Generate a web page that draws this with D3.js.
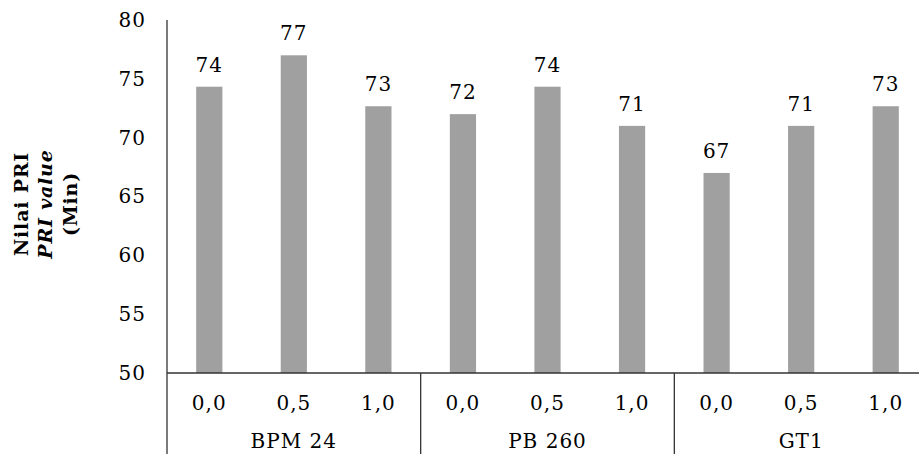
<!DOCTYPE html>
<html><head><meta charset="utf-8">
<script src="https://cdn.jsdelivr.net/npm/d3@7"></script>
<style>body{margin:0;background:#fff}svg{display:block}text{font-family:"DejaVu Serif",serif;fill:#000}</style>
</head><body><svg id="c" width="919" height="454"></svg>
<script>
const groups = ["BPM 24", "PB 260", "GT1"];
const doses = ["0,0", "0,5", "1,0"];
const values = [74.33, 77, 72.67, 72, 74.33, 71, 67, 71, 72.67];
const labels = ["74", "77", "73", "72", "74", "71", "67", "71", "73"];
const yTicks = [50, 55, 60, 65, 70, 75, 80];

const svg = d3.select("#c");
const pLeft = 167, pRight = 928, pTop = 20, pBase = 373;
const FS = 20, LS = "1px";
const ids = d3.range(values.length);
const x = d3.scaleBand().domain(ids).range([pLeft, pRight]).paddingInner(0.69).paddingOuter(0.345);
const y = d3.scaleLinear().domain([50, 80]).range([pBase, pTop]);
const step = x.step();

svg.selectAll("rect.bar").data(values).join("rect")
  .attr("x", (d, i) => x(i)).attr("width", x.bandwidth())
  .attr("y", d => y(d)).attr("height", d => y(50) - y(d))
  .attr("fill", "#a0a0a0");

svg.selectAll("text.val").data(values).join("text")
  .attr("x", (d, i) => x(i) + x.bandwidth() / 2).attr("y", d => y(d) - 15)
  .attr("text-anchor", "middle").attr("font-size", FS).attr("letter-spacing", LS).text((d, i) => labels[i]);

const yAxis = d3.axisLeft(y).tickValues(yTicks).tickSize(0).tickPadding(21);
const gy = svg.append("g").attr("transform", `translate(${pLeft},0)`).call(yAxis);
gy.select(".domain").remove();
gy.selectAll("text").attr("font-size", FS).attr("letter-spacing", LS).attr("font-family", "DejaVu Serif").attr("fill", "#000");
svg.append("line").attr("x1", pLeft).attr("x2", pLeft).attr("y1", pTop).attr("y2", 454).attr("stroke", "#333").attr("stroke-width", 1.3);
svg.append("line").attr("x1", pLeft).attr("x2", 919).attr("y1", pBase).attr("y2", pBase).attr("stroke", "#333").attr("stroke-width", 1.3);

svg.selectAll("text.dose").data(ids).join("text")
  .attr("x", i => x(i) + x.bandwidth() / 2).attr("y", 410)
  .attr("text-anchor", "middle").attr("font-size", FS).attr("letter-spacing", LS).text(i => doses[i % 3]);

groups.forEach((g, k) => {
  const gStart = pLeft + k * 3 * step;
  const gEnd = gStart + 3 * step;
  svg.append("text").attr("x", (gStart + gEnd) / 2).attr("y", 448).attr("text-anchor", "middle")
    .attr("font-size", FS).attr("letter-spacing", LS).text(g);
  if (k > 0) svg.append("line").attr("x1", gStart).attr("x2", gStart).attr("y1", pBase).attr("y2", 454).attr("stroke", "#333").attr("stroke-width", 1.3);
});

const t = svg.append("text").attr("transform", "translate(52,204) rotate(-90)").attr("text-anchor", "middle")
  .attr("font-size", 19).attr("font-weight", "bold").attr("letter-spacing", "0.8px");
t.append("tspan").attr("x", 0).attr("dy", -24.5).text("Nilai PRI");
t.append("tspan").attr("x", 0).attr("dy", 24.5).attr("font-style", "italic").text("PRI value");
t.append("tspan").attr("x", 0).attr("dy", 24.5).text("(Min)");
</script></body></html>
